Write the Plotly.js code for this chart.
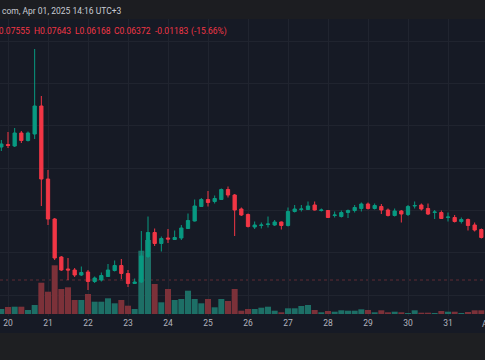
<!DOCTYPE html>
<html>
<head>
<meta charset="utf-8">
<script src="https://cdn.plot.ly/plotly-3.0.1.min.js"></script>
<style>
html,body{margin:0;padding:0;background:#161a25;}
#chart{width:485px;height:360px;}
</style>
</head>
<body>
<div id="chart"></div>
<script>
// 4h candles, first at 2025-03-19 20:00 (UTC+3 local time)
const firstCandle = "2025-03-19T20:00:00";
const candleHours = 4;

const openP  = [0.0806,0.0811,0.0808,0.0834,0.0819,0.0832,0.0888,0.0742,0.0662,0.0586,
                0.0562,0.0560,0.0550,0.0556,0.0537,0.0540,0.0547,0.0559,0.0569,0.0553,
                0.0533,0.0536,0.0587,0.0635,0.0613,0.0624,0.0621,0.0624,0.0643,0.0658,
                0.0687,0.0701,0.0697,0.0701,0.0721,0.0710,0.0682,0.0671,0.0646,0.0649,
                0.0651,0.0650,0.0656,0.0649,0.0677,0.0681,0.0681,0.0690,0.0679,0.0679,
                0.0669,0.0667,0.0675,0.0679,0.0683,0.0692,0.0683,0.0687,0.0680,0.0669,
                0.0678,0.0671,0.0688,0.0690,0.0683,0.0675,0.0675,0.0665,0.0665,0.0657,
                0.0661,0.0650,0.0641,0.0625];
const highP  = [0.0820,0.0836,0.0844,0.0838,0.0837,0.1002,0.0908,0.0760,0.0664,0.0588,
                0.0584,0.0564,0.0567,0.0560,0.0547,0.0555,0.0572,0.0579,0.0582,0.0560,
                0.0543,0.0638,0.0667,0.0643,0.0627,0.0642,0.0639,0.0650,0.0673,0.0701,
                0.0704,0.0718,0.0709,0.0723,0.0727,0.0712,0.0685,0.0673,0.0657,0.0655,
                0.0667,0.0660,0.0657,0.0685,0.0690,0.0690,0.0697,0.0697,0.0683,0.0680,
                0.0677,0.0679,0.0681,0.0690,0.0695,0.0695,0.0693,0.0692,0.0683,0.0683,
                0.0680,0.0690,0.0697,0.0693,0.0693,0.0680,0.0679,0.0675,0.0670,0.0665,
                0.0663,0.0655,0.0643,0.0636];
const lowP   = [0.0798,0.0804,0.0806,0.0814,0.0817,0.0822,0.0688,0.0650,0.0580,0.0558,
                0.0540,0.0546,0.0548,0.0520,0.0534,0.0537,0.0546,0.0557,0.0542,0.0526,
                0.0532,0.0534,0.0584,0.0608,0.0597,0.0614,0.0620,0.0620,0.0642,0.0657,
                0.0686,0.0687,0.0693,0.0700,0.0705,0.0628,0.0668,0.0645,0.0642,0.0643,
                0.0645,0.0648,0.0641,0.0647,0.0675,0.0677,0.0680,0.0679,0.0677,0.0664,
                0.0665,0.0665,0.0664,0.0675,0.0677,0.0681,0.0681,0.0672,0.0667,0.0667,
                0.0655,0.0668,0.0683,0.0679,0.0670,0.0662,0.0662,0.0657,0.0655,0.0653,
                0.0639,0.0637,0.0623,0.0624];
const closeP = [0.0812,0.0809,0.0834,0.0819,0.0834,0.0888,0.0742,0.0662,0.0584,0.0560,
                0.0560,0.0550,0.0555,0.0537,0.0544,0.0549,0.0560,0.0569,0.0553,0.0533,
                0.0536,0.0588,0.0635,0.0613,0.0623,0.0622,0.0625,0.0644,0.0659,0.0688,
                0.0701,0.0695,0.0703,0.0721,0.0710,0.0680,0.0670,0.0647,0.0650,0.0650,
                0.0652,0.0656,0.0649,0.0677,0.0682,0.0682,0.0688,0.0680,0.0680,0.0665,
                0.0670,0.0675,0.0679,0.0685,0.0692,0.0683,0.0689,0.0680,0.0669,0.0678,
                0.0672,0.0687,0.0689,0.0682,0.0672,0.0676,0.0663,0.0666,0.0657,0.0661,
                0.0649,0.0640,0.0625,0.0633];
// volume, millions
const volume = [0.50,0.70,0.73,0.73,0.40,0.90,3.13,2.23,4.87,2.50,
                2.67,1.40,1.40,2.00,1.23,1.23,1.57,1.07,1.40,0.83,
                0.50,6.33,7.40,3.00,1.17,2.50,1.40,1.50,2.33,1.50,
                1.07,1.50,0.67,1.50,1.30,2.50,0.33,0.50,0.50,0.63,
                0.73,0.33,0.17,0.57,0.57,0.80,0.90,0.40,0.17,0.30,
                0.23,0.37,0.33,0.33,0.47,0.40,0.17,0.37,0.17,0.23,
                0.17,0.10,0.37,0.13,0.13,0.10,0.30,0.23,0.23,0.10,
                0.20,0.37,0.37,0.37];
const tickDates  = ["2025-03-20","2025-03-21","2025-03-22","2025-03-23","2025-03-24","2025-03-25",
                    "2025-03-26","2025-03-27","2025-03-28","2025-03-29","2025-03-30","2025-03-31","2025-04-01"];
const tickLabels = ["20","21","22","23","24","25","26","27","28","29","30","31","Apr"];
const prevCloseLine = 0.0540;
const headerText = "com, Apr 01, 2025 14:16 UTC+3";
const ohlcTokens = ["O0.07555","H0.07643","L0.06168","C0.06372","-0.01183","(-15.66%)"];

function pad(n){return (n<10?"0":"")+n;}
const t0 = new Date(firstCandle+"Z").getTime();
const times = openP.map((_,i)=>{
  const d = new Date(t0 + i*candleHours*3600000);
  return d.getUTCFullYear()+"-"+pad(d.getUTCMonth()+1)+"-"+pad(d.getUTCDate())+" "+pad(d.getUTCHours())+":00";
});

const UP="#089981", DOWN="#f23645";
const volColors = closeP.map((c,i)=> c>=openP[i] ? "#1d6f66" : "#7c3139");

const volTrace = {
  type:"bar", x:times, y:volume, yaxis:"y", xaxis:"x",
  marker:{color:volColors, line:{width:0}}, hoverinfo:"skip"
};
const candleTrace = {
  type:"candlestick", x:times, open:openP, high:highP, low:lowP, close:closeP,
  yaxis:"y2", xaxis:"x",
  increasing:{line:{color:UP,width:1}, fillcolor:UP},
  decreasing:{line:{color:DOWN,width:1}, fillcolor:DOWN},
  whiskerwidth:0, hoverinfo:"skip"
};

// plot area: y 19..316 px (297 px tall), x range spans 485 px = 12.125 days
const PH = 297;
function py(px){ return 1 - (px-19)/PH; }
const xStart = "2025-03-19 19:12", xEnd = "2025-03-31 22:12";
const msStart = new Date("2025-03-19T19:12:00Z").getTime(), msEnd = new Date("2025-03-31T22:12:00Z").getTime();
function dateToPaper(s){ return (new Date(s+"T00:00:00Z").getTime()-msStart)/(msEnd-msStart); }

const font = "Roboto, 'Open Sans', sans-serif";
const tokX = [-9,32,73,112,153,189];
const annotations = [
  {text:headerText, xref:"paper", yref:"paper", x:0, y:py(11), xanchor:"left", yanchor:"middle",
   showarrow:false, font:{family:font,size:8.5,color:"#c8cbd3"}},
  // last day label sits just beyond the visible range, as in the reference
  {text:tickLabels[tickLabels.length-1], xref:"paper", yref:"paper",
   x:dateToPaper(tickDates[tickDates.length-1]), y:py(324), xanchor:"center", yanchor:"middle",
   showarrow:false, font:{family:font,size:8.5,color:"#b2b5be"}}
].concat(ohlcTokens.map((t,i)=>({
  text:t, xref:"paper", yref:"paper", x:tokX[i]/485, y:py(31), xanchor:"left", yanchor:"middle",
  showarrow:false, font:{family:font,size:8.5,color:"#f23645"}
})));

const layout = {
  width:485, height:360,
  margin:{l:0,r:0,t:19,b:44,pad:0},
  paper_bgcolor:"#161a25", plot_bgcolor:"#161a25",
  showlegend:false, bargap:0.1, boxgap:0.3,
  font:{family:font,size:8.5,color:"#b2b5be"},
  xaxis:{
    type:"date", range:[xStart,xEnd],
    rangeslider:{visible:false},
    tickmode:"array", tickvals:tickDates, ticktext:tickLabels,
    showgrid:true, gridcolor:"#20242f", gridwidth:1,
    zeroline:false, showline:false, ticks:"", ticklen:0,
    tickfont:{family:font,size:8.5,color:"#b2b5be"}
  },
  yaxis:{
    range:[-0.2,29.5], showticklabels:false, zeroline:false,
    tickmode:"linear", tick0:1.9, dtick:4.233,
    showgrid:true, gridcolor:"#20242f", gridwidth:1, fixedrange:true
  },
  yaxis2:{
    overlaying:"y", range:[0.0468,0.1062], showticklabels:false,
    showgrid:false, zeroline:false, fixedrange:true
  },
  shapes:[
    {type:"rect", xref:"paper", yref:"paper", x0:-0.01, x1:1.01, y0:1, y1:py(-5), fillcolor:"#1c1d21", line:{width:0}, layer:"above"},
    {type:"rect", xref:"paper", yref:"paper", x0:-0.01, x1:1.01, y0:py(333), y1:py(365), fillcolor:"#1e1f22", line:{width:0}, layer:"above"},
    {type:"line", xref:"paper", yref:"y2", x0:0, x1:1, y0:prevCloseLine, y1:prevCloseLine,
     line:{color:"#5e2a34", width:1, dash:"dot"}, layer:"below"}
  ],
  annotations:annotations
};

Plotly.newPlot("chart",[volTrace,candleTrace],layout,{staticPlot:true,displayModeBar:false});
</script>
</body>
</html>
